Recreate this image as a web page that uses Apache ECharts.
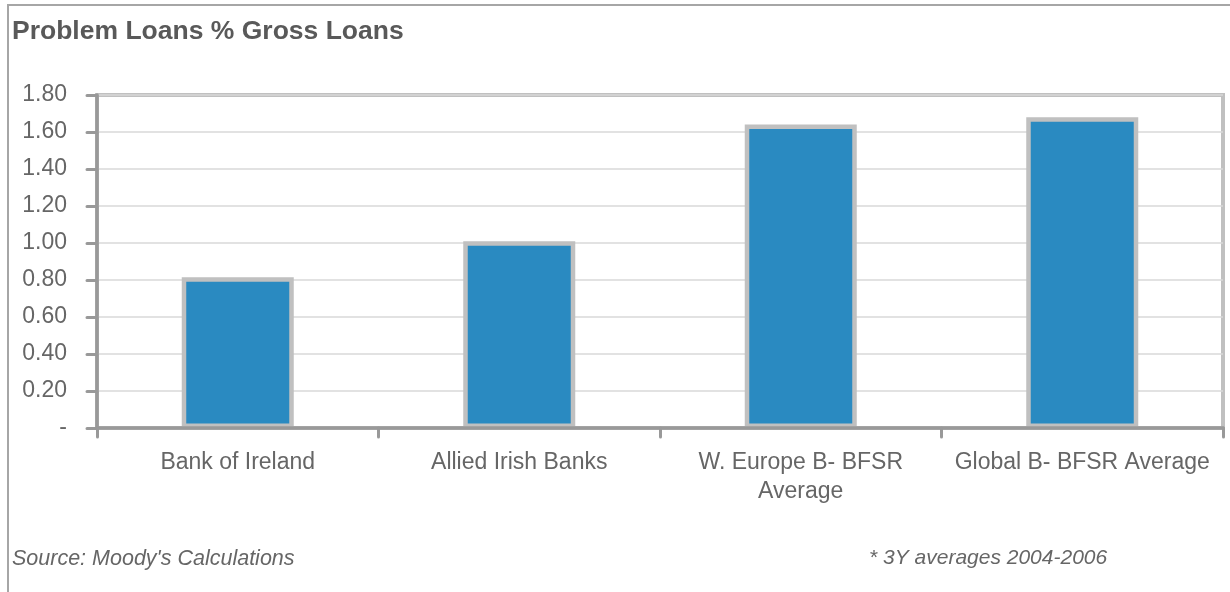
<!DOCTYPE html>
<html>
<head>
<meta charset="utf-8">
<script src="https://cdn.jsdelivr.net/npm/echarts@6/dist/echarts.min.js"></script>
<style>
html,body{margin:0;padding:0;background:#fff;}
#chart{width:1230px;height:592px;}
</style>
</head>
<body>
<div id="chart"></div>
<script>
var categories = ['Bank of Ireland', 'Allied Irish Banks', 'W. Europe B- BFSR\nAverage', 'Global B- BFSR Average'];
var values = [0.815, 1.01, 1.64, 1.68];
var yMin = 0, yMax = 1.8, yStep = 0.2;
var titleText = 'Problem Loans % Gross Loans';
var sourceText = "Source: Moody's Calculations";
var noteText = '* 3Y averages 2004-2006';

var chart = echarts.init(document.getElementById('chart'), null, {renderer: 'canvas'});
var FONT = 'Liberation Sans, Arial, sans-serif';
chart.setOption({
  animation: false,
  backgroundColor: '#ffffff',
  title: {
    text: titleText,
    left: 7, top: 13,
    textStyle: {fontFamily: FONT, fontSize: 26.5, fontWeight: 'bold', color: '#595959'}
  },
  grid: {
    left: 97, right: 7, top: 95, bottom: 164,
    show: true, borderColor: '#c0c0c0', borderWidth: 4, backgroundColor: 'transparent'
  },
  xAxis: {
    type: 'category',
    data: categories,
    z: 5,
    axisLine: {show: true, lineStyle: {color: '#999999', width: 3.5, cap: 'round'}},
    axisTick: {show: true, alignWithLabel: false, length: 9, lineStyle: {color: '#999999', width: 3, cap: 'round'}},
    axisLabel: {
      margin: 20, fontFamily: FONT, fontSize: 23, color: '#666666', lineHeight: 29, interval: 0
    },
    splitLine: {show: false}
  },
  yAxis: {
    type: 'value',
    min: yMin, max: yMax, interval: yStep,
    z: 0,
    axisLine: {show: true, lineStyle: {color: '#999999', width: 3.5, cap: 'round'}},
    axisTick: {show: true, length: 10, lineStyle: {color: '#999999', width: 3, cap: 'round'}},
    axisLabel: {
      margin: 30, fontFamily: FONT, fontSize: 23, color: '#666666',
      formatter: function (v) { return Math.abs(v) < 1e-9 ? '-' : v.toFixed(2); }
    },
    splitLine: {show: true, lineStyle: {color: '#d9d9d9', width: 1.5}}
  },
  series: [{
    type: 'bar',
    data: values,
    barWidth: 112,
    z: 2,
    itemStyle: {color: '#2a8ac1', borderColor: '#c0c0c0', borderWidth: 4.5}
  }],
  graphic: [
    {type: 'line', shape: {x1: 7, y1: 5, x2: 1230, y2: 5}, style: {stroke: '#a6a6a6', lineWidth: 2}},
    {type: 'line', shape: {x1: 8, y1: 5, x2: 8, y2: 592}, style: {stroke: '#a6a6a6', lineWidth: 2}},
    {type: 'text', left: 12, top: 548, style: {text: sourceText, font: 'italic 21.5px Liberation Sans, Arial, sans-serif', fill: '#666666'}},
    {type: 'text', left: 869, top: 548, style: {text: noteText, font: 'italic 21px Liberation Sans, Arial, sans-serif', fill: '#666666'}}
  ]
});
</script>
</body>
</html>
